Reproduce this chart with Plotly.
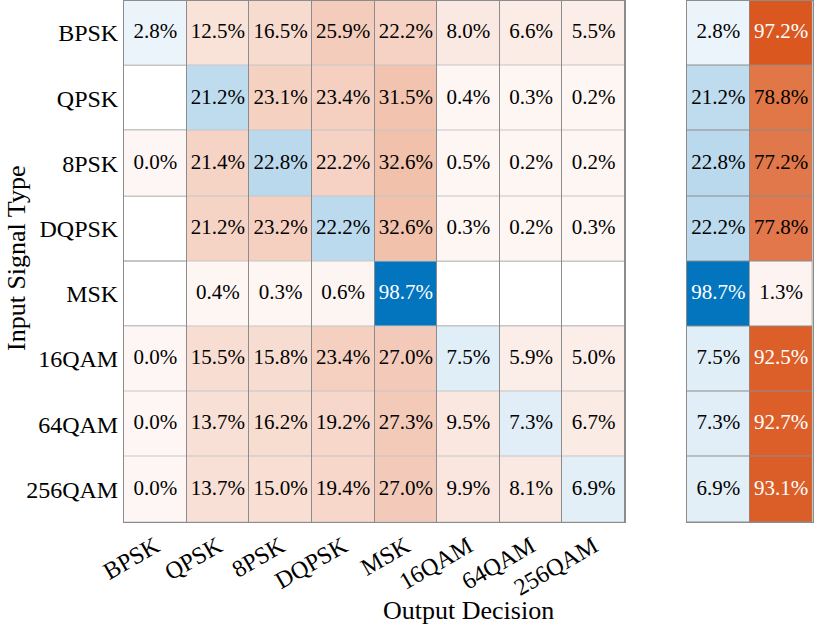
import numpy as np
import plotly.graph_objects as go

classes = ["BPSK", "QPSK", "8PSK", "DQPSK", "MSK", "16QAM", "64QAM", "256QAM"]

# Row-normalised percentages (None = no samples, blank cell)
row_bpsk = [2.8, 12.5, 16.5, 25.9, 22.2, 8.0, 6.6, 5.5]
row_qpsk = [None, 21.2, 23.1, 23.4, 31.5, 0.4, 0.3, 0.2]
row_8psk = [0.0, 21.4, 22.8, 22.2, 32.6, 0.5, 0.2, 0.2]
row_dqpsk = [None, 21.2, 23.2, 22.2, 32.6, 0.3, 0.2, 0.3]
row_msk = [None, 0.4, 0.3, 0.6, 98.7, None, None, None]
row_16qam = [0.0, 15.5, 15.8, 23.4, 27.0, 7.5, 5.9, 5.0]
row_64qam = [0.0, 13.7, 16.2, 19.2, 27.3, 9.5, 7.3, 6.7]
row_256qam = [0.0, 13.7, 15.0, 19.4, 27.0, 9.9, 8.1, 6.9]

summary_correct = [2.8, 21.2, 22.8, 22.2, 98.7, 7.5, 7.3, 6.9]
summary_incorrect = [97.2, 78.8, 77.2, 77.8, 1.3, 92.5, 92.7, 93.1]

rows = [row_bpsk, row_qpsk, row_8psk, row_dqpsk, row_msk, row_16qam, row_64qam, row_256qam]
M = np.array([[np.nan if v is None else v for v in r] for r in rows], dtype=float)
n = len(classes)

BLUE = (0, 114, 189)
ORANGE = (217, 83, 25)
FONT = "Liberation Serif"
GRID = "#8c8c8c"
OFF = 0.05
ZMIN = -100 * OFF / (1 - OFF)
CELL_FS = 21
TICK_FS = 24
TITLE_FS = 26

def cell_color(v, base):
    t = OFF + (1 - OFF) * v / 100.0
    return tuple(255 - t * (255 - c) for c in base)

def txt_color(v, base):
    r, g, b = cell_color(v, base)
    lum = 0.299 * r + 0.587 * g + 0.114 * b
    return "white" if lum < 135 else "black"

eye = np.eye(n, dtype=bool)
diag = np.where(eye, M, np.nan)
offd = np.where(~eye, M, np.nan)

blue_cs = [[0, "#ffffff"], [1, "rgb(0,114,189)"]]
orange_cs = [[0, "#ffffff"], [1, "rgb(217,83,25)"]]
white_cs = [[0, "#ffffff"], [1, "#ffffff"]]

idx = list(range(n))
fig = go.Figure()

def hm(z, cs, xa, ya, xs):
    return go.Heatmap(z=z, x=xs, y=idx, colorscale=cs, zmin=ZMIN, zmax=100,
                      showscale=False, xgap=1, ygap=1, hoverinfo="skip",
                      xaxis=xa, yaxis=ya)

fig.add_trace(hm(np.zeros((n, n)), white_cs, "x", "y", idx))
fig.add_trace(hm(offd, orange_cs, "x", "y", idx))
fig.add_trace(hm(diag, blue_cs, "x", "y", idx))

# text in main matrix
tx, ty, tt, tc = [], [], [], []
for i in range(n):
    for j in range(n):
        v = M[i, j]
        if np.isnan(v):
            continue
        tx.append(j); ty.append(i); tt.append(f"{v:.1f}%")
        tc.append(txt_color(v, BLUE if i == j else ORANGE))
fig.add_trace(go.Scatter(x=tx, y=ty, text=tt, mode="text", textfont=dict(family=FONT, size=CELL_FS, color=tc),
                         hoverinfo="skip", xaxis="x", yaxis="y", showlegend=False, cliponaxis=False))

# summary
sc = np.array(summary_correct, dtype=float)[:, None]
si = np.array(summary_incorrect, dtype=float)[:, None]
fig.add_trace(hm(sc, blue_cs, "x2", "y2", [0]))
fig.add_trace(hm(si, orange_cs, "x2", "y2", [1]))
sx, sy, st, scol = [], [], [], []
for i in range(n):
    sx.append(0); sy.append(i); st.append(f"{summary_correct[i]:.1f}%"); scol.append(txt_color(summary_correct[i], BLUE))
    sx.append(1); sy.append(i); st.append(f"{summary_incorrect[i]:.1f}%"); scol.append(txt_color(summary_incorrect[i], ORANGE))
fig.add_trace(go.Scatter(x=sx, y=sy, text=st, mode="text", textfont=dict(family=FONT, size=CELL_FS, color=scol),
                         hoverinfo="skip", xaxis="x2", yaxis="y2", showlegend=False, cliponaxis=False))

W, H = 814, 629
ydom = [107 / H, 1 - 0.5 / H]
ax_common = dict(showgrid=False, zeroline=False, showline=True, mirror=True, linecolor=GRID, linewidth=1,
                 automargin=False, fixedrange=True)
fig.update_layout(
    width=W, height=H, margin=dict(l=0, r=0, t=0, b=0, pad=0), autosize=False,
    paper_bgcolor="white", plot_bgcolor=GRID, showlegend=False,
    font=dict(family=FONT, color="black"),
    xaxis=dict(domain=[124 / W, 625 / W], range=[-0.5, n - 0.5], tickmode="array", tickvals=idx,
               ticktext=classes, tickangle=-30, ticks="", tickfont=dict(family=FONT, size=TICK_FS), **ax_common),
    yaxis=dict(domain=ydom, range=[n - 0.5, -0.5], tickmode="array", tickvals=idx, ticktext=classes,
               ticks="", tickfont=dict(family=FONT, size=TICK_FS), **ax_common),
    xaxis2=dict(domain=[687 / W, 812.5 / W], range=[-0.5, 1.5], showticklabels=False, ticks="", anchor="y2", **ax_common),
    yaxis2=dict(domain=ydom, range=[n - 0.5, -0.5], showticklabels=False, ticks="", anchor="x2", **ax_common),
    annotations=[
        dict(text="Output Decision", x=468 / W, y=(H - 610) / H, xref="paper", yref="paper",
             showarrow=False, font=dict(family=FONT, size=TITLE_FS), xanchor="center", yanchor="middle"),
        dict(text="Input Signal Type", x=16 / W, y=(H - 259) / H, xref="paper", yref="paper", textangle=-90,
             showarrow=False, font=dict(family=FONT, size=TITLE_FS), xanchor="center", yanchor="middle"),
    ],
)

fig.write_html("out.html", config={"displayModeBar": False, "staticPlot": True},
               post_script="document.body.style.margin='0';document.body.style.overflow='hidden';")
